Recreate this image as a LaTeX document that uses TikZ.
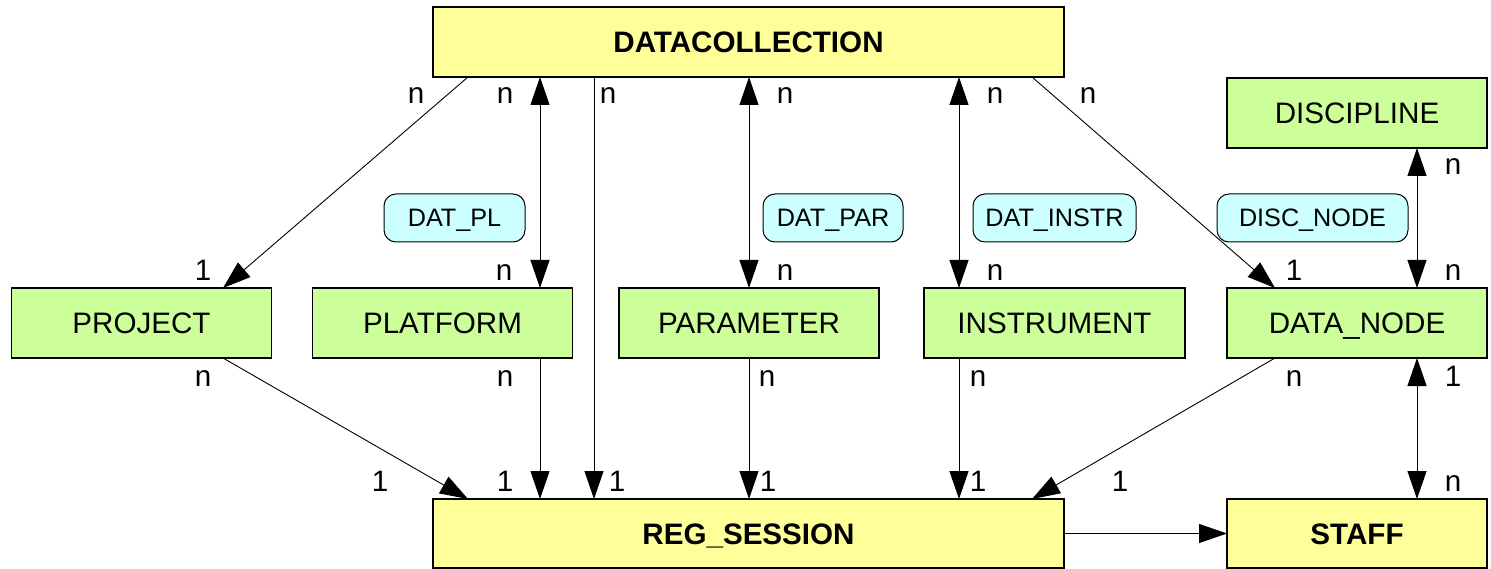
\documentclass[tikz,border=0pt]{standalone}
\usepackage{fontspec}
\setmainfont{Liberation Sans}
\usetikzlibrary{arrows.meta}
\definecolor{entyellow}{RGB}{255,255,153}
\definecolor{entgreen}{RGB}{204,255,153}
\definecolor{relcyan}{RGB}{204,255,255}
\newcommand\boxfont{\fontsize{29.6}{34}\selectfont}
\newcommand\pillfont{\fontsize{25.2}{29}\selectfont}
\tikzset{
  entity/.style={draw=black, line width=1.2pt, inner sep=0pt, outer sep=0pt,
    minimum height=70pt, text height=21.2pt, text depth=0pt, font=\boxfont},
  mainent/.style={entity, fill=entyellow, font=\boxfont\bfseries, minimum width=631pt},
  subent/.style={entity, fill=entgreen, minimum width=260pt},
  relation/.style={draw=black, line width=1pt, fill=relcyan, rounded corners=12pt,
    minimum height=48pt, inner sep=0pt, text height=18pt, text depth=0pt, font=\pillfont},
  card/.style={anchor=base, inner sep=0pt, font=\boxfont},
  link/.style={line width=0.9pt, -{Triangle[length=28pt,width=19pt]}},
  bilink/.style={line width=0.9pt, {Triangle[length=28pt,width=19pt]}-{Triangle[length=28pt,width=19pt]}},
}
\begin{document}
\begin{tikzpicture}[x=1pt,y=-1pt]
\useasboundingbox (0,0) rectangle (1491,569);

% entities
\node[mainent] (dc) at (748.5,42) {DATACOLLECTION};
\node[mainent, minimum height=69pt] (rs) at (748.5,533.5) {REG\_SESSION};
\node[subent] (disc) at (1357,113) {DISCIPLINE};
\node[subent] (proj) at (141.5,323) {PROJECT};
\node[subent] (plat) at (442.5,323) {PLATFORM};
\node[subent] (par) at (749,323) {PARAMETER};
\node[subent, minimum width=261pt] (instr) at (1054.5,323) {INSTRUMENT};
\node[subent] (dn) at (1357,323) {DATA\_NODE};
\node[subent, fill=entyellow, font=\boxfont\bfseries, minimum height=69pt] (staff) at (1357,533.5) {STAFF};

% relationship tables
\node[relation, minimum width=141pt] (rpl) at (454.5,218) {DAT\_PL};
\node[relation, minimum width=140pt] (rpar) at (833,218) {DAT\_PAR};
\node[relation, minimum width=163pt] (rinstr) at (1054.5,218) {DAT\_INSTR};
\node[relation, minimum width=191pt] (rdisc) at (1312.5,218) {DISC\_NODE};

% connectors from DATACOLLECTION
\draw[link] ([xshift=35pt]dc.south west) -- ([xshift=211.5pt]proj.north west);
\draw[bilink] ([xshift=107pt]dc.south west) -- ([xshift=227.5pt]plat.north west);
\draw[link] ([xshift=161pt]dc.south west) -- ([xshift=161pt]rs.north west);
\draw[bilink] (dc.south -| par.north) -- (par.north);
\draw[bilink] ([xshift=526pt]dc.south west) -- ([xshift=35pt]instr.north west);
\draw[link] ([xshift=599pt]dc.south west) -- ([xshift=48pt]dn.north west);
\draw[bilink] ([xshift=190pt]disc.south west) -- ([xshift=190pt]dn.north west);

% connectors into REG_SESSION
\draw[link] ([xshift=211.5pt]proj.south west) -- ([xshift=35pt]rs.north west);
\draw[link] ([xshift=227.5pt]plat.south west) -- ([xshift=107pt]rs.north west);
\draw[link] (par.south) -- (par.south |- rs.north);
\draw[link] ([xshift=35pt]instr.south west) -- ([xshift=526pt]rs.north west);
\draw[link] ([xshift=48pt]dn.south west) -- ([xshift=599pt]rs.north west);
\draw[bilink] ([xshift=190pt]dn.south west) -- ([xshift=190pt]staff.north west);
\draw[link] (rs.east) -- (staff.west);

% cardinalities below DATACOLLECTION
\node[card] (c1) at (416,104) {n};
\node[card] (c2) at (505,104) {n};
\node[card] (c3) at (608,104) {n};
\node[card] (c4) at (785,104) {n};
\node[card] (c5) at (995,104) {n};
\node[card] (c6) at (1088,104) {n};
\node[card] (c7) at (1453,175) {n};

% cardinalities above the middle row
\node[card] (c8) at (203,280) {1};
\node[card] (c9) at (504,280) {n};
\node[card] (c10) at (785,280) {n};
\node[card] (c11) at (995,280) {n};
\node[card] (c12) at (1294,280) {1};
\node[card] (c13) at (1453,280) {n};

% cardinalities below the middle row
\node[card] (c14) at (203,386) {n};
\node[card] (c15) at (505,386) {n};
\node[card] (c16) at (767,386) {n};
\node[card] (c17) at (978,386) {n};
\node[card] (c18) at (1294,386) {n};
\node[card] (c19) at (1453,386) {1};

% cardinalities above REG_SESSION and STAFF
\node[card] (c20) at (380,491) {1};
\node[card] (c21) at (505,491) {1};
\node[card] (c22) at (617,491) {1};
\node[card] (c23) at (768,491) {1};
\node[card] (c24) at (978,491) {1};
\node[card] (c25) at (1120,491) {1};
\node[card] (c26) at (1453,491) {n};
\end{tikzpicture}
\end{document}
